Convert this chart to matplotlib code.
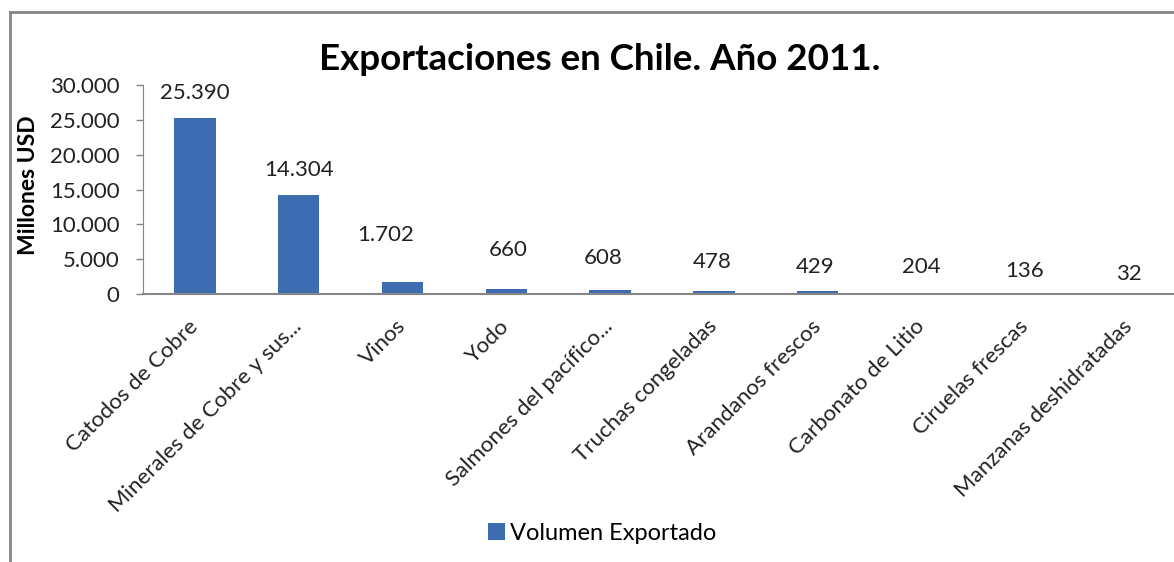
import matplotlib
matplotlib.use("Agg")
import matplotlib.pyplot as plt
from matplotlib.ticker import FuncFormatter, MultipleLocator
from matplotlib.lines import Line2D

plt.rcParams['font.family'] = ['Lato', 'DejaVu Sans']

# datos
productos = ["Catodos de Cobre", "Minerales de Cobre y sus...", "Vinos", "Yodo",
             "Salmones del pacífico...", "Truchas congeladas", "Arandanos frescos",
             "Carbonato de Litio", "Ciruelas frescas", "Manzanas deshidratadas"]
volumen = [25390, 14304, 1702, 660, 608, 478, 429, 204, 136, 32]

# desplazamiento de cada etiqueta respecto al tope de su barra (pixeles)
etiqueta_dx = [0, 0, -17, 2, -7, -2, -3, 0, -1, 0]
etiqueta_dy = [25, 25, 47, 39, 32, 29, 24, 26, 22, 20]

azul = '#3d6cb3'
gris = '#868686'
texto = '#222222'


def miles(v, pos=None):
    return f"{int(round(v)):,}".replace(",", ".")


W, H = 1174, 562
fig = plt.figure(figsize=(W / 100, H / 100), dpi=100)
ax = fig.add_axes([143 / W, 1 - 294 / H, 1038 / W, 208.5 / H])

x = range(len(productos))
barras = ax.bar(x, volumen, width=0.4, color=azul, label="Volumen Exportado")

for i, v in enumerate(volumen):
    ax.annotate(miles(v), xy=(i, v), xytext=(etiqueta_dx[i] * 0.72, etiqueta_dy[i] * 0.72),
                textcoords='offset points', ha='center', va='center',
                fontsize=16, color=texto)

ax.set_xlim(-0.5, len(productos) - 0.5)
ax.set_ylim(0, 30000)
ax.yaxis.set_major_locator(MultipleLocator(5000))
ax.yaxis.set_major_formatter(FuncFormatter(miles))

ax.set_xticks(list(x))
ax.set_xticklabels(productos, rotation=45, ha='right', va='center',
                   rotation_mode='anchor', fontsize=16, color=texto)
ax.tick_params(axis='x', length=0, pad=21)
ax.tick_params(axis='y', length=5, width=1, color=gris, labelsize=16,
               labelcolor=texto, pad=12)

for lado in ['top', 'right']:
    ax.spines[lado].set_visible(False)
ax.spines['left'].set_color(gris)
ax.spines['bottom'].set_color(gris)
ax.spines['bottom'].set_linewidth(1.5)

ax.set_ylabel("Millones USD", fontsize=16.5, fontweight='bold')
ax.yaxis.set_label_coords(-104 / 1038, 0.52)

fig.text(600 / W, 1 - 60 / H, "Exportaciones en Chile. Año 2011.",
         ha='center', va='center', fontsize=26.5, fontweight='bold')

fig.legend(handles=[barras], loc='center', bbox_to_anchor=(602 / W, 1 - 533 / H),
           frameon=False, fontsize=17, handlelength=0.75, handleheight=0.75,
           handletextpad=0.2)

# marco del gráfico
fig.add_artist(Line2D([10 / W, 10 / W], [0, 1 - 12 / H], color=gris, lw=2,
                      transform=fig.transFigure))
fig.add_artist(Line2D([10 / W, 1], [1 - 12 / H, 1 - 12 / H], color=gris, lw=2,
                      transform=fig.transFigure))

fig.savefig("out.png", dpi=100)
